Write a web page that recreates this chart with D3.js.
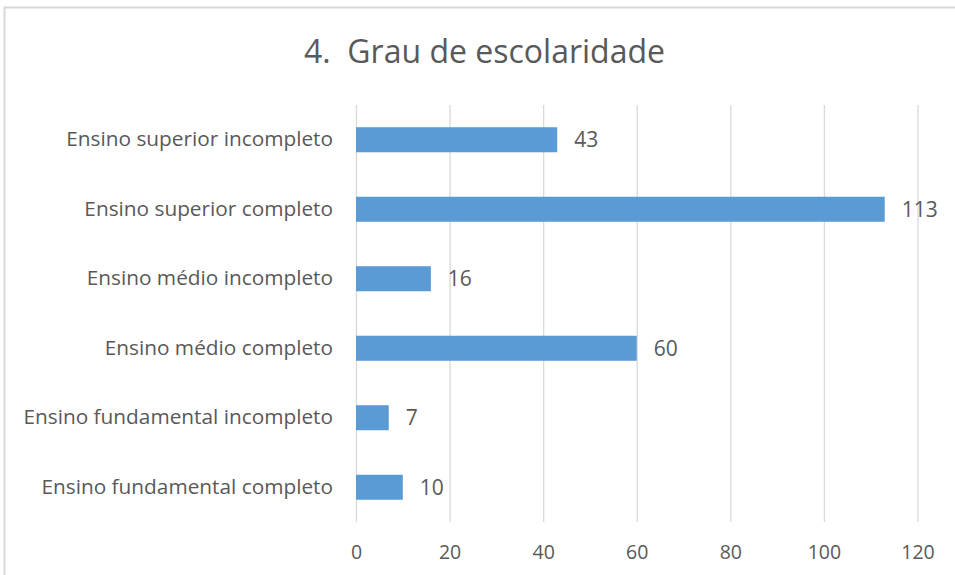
<!DOCTYPE html>
<html>
<head>
<meta charset="utf-8">
<script src="https://cdn.jsdelivr.net/npm/d3@7"></script>
<style>
  body { margin: 0; background: #fff; }
  svg { display: block; font-family: "Open Sans", sans-serif; }
</style>
</head>
<body>
<script>
// chart data
const categories = [
  "Ensino superior incompleto",
  "Ensino superior completo",
  "Ensino médio incompleto",
  "Ensino médio completo",
  "Ensino fundamental incompleto",
  "Ensino fundamental completo"
];
const values = [43, 113, 16, 60, 7, 10];
const xTicks = [0, 20, 40, 60, 80, 100, 120];
const title = "4.  Grau de escolaridade";

const W = 955, H = 575;
const plotLeft = 356, plotRight = 917.5, plotTop = 105, plotBottom = 522;
const textColor = "#595959", gridColor = "#d9d9d9", barColor = "#5b9bd5";

const svg = d3.select("body").append("svg")
    .attr("width", W)
    .attr("height", H);

// chart frame
svg.append("rect")
    .attr("x", 4.5).attr("y", 7.5)
    .attr("width", W + 10).attr("height", H + 10)
    .attr("fill", "#fff")
    .attr("stroke", gridColor)
    .attr("stroke-width", 2);

svg.append("text")
    .attr("x", 484.5)
    .attr("y", 51)
    .attr("dy", "0.36em")
    .attr("text-anchor", "middle")
    .attr("font-size", "32px")
    .attr("fill", textColor)
    .style("white-space", "pre")
    .text(title);

const x = d3.scaleLinear().domain([0, 120]).range([plotLeft, plotRight]);
const y = d3.scaleBand().domain(categories).range([plotTop, plotBottom])
    .paddingInner(0.64).paddingOuter(0.32);

// gridlines
const grid = svg.append("g")
    .attr("transform", "translate(0," + plotBottom + ")")
    .call(d3.axisBottom(x).tickValues(xTicks).tickSize(-(plotBottom - plotTop)).tickFormat(""));
grid.select(".domain").remove();
grid.selectAll(".tick line").attr("stroke", gridColor).attr("stroke-width", 1.3);

// x tick labels
const xAxis = svg.append("g")
    .attr("transform", "translate(0," + plotBottom + ")")
    .call(d3.axisBottom(x).tickValues(xTicks).tickSize(0).tickPadding(23));
xAxis.select(".domain").remove();
xAxis.selectAll("text")
    .attr("font-family", "Open Sans")
    .attr("font-size", "19.5px")
    .attr("fill", textColor);

// category labels
const yAxis = svg.append("g")
    .attr("transform", "translate(" + plotLeft + ",0)")
    .call(d3.axisLeft(y).tickSize(0).tickPadding(23));
yAxis.select(".domain").remove();
yAxis.selectAll("text")
    .attr("font-family", "Open Sans")
    .attr("font-size", "20.8px")
    .attr("fill", textColor);

// bars
svg.selectAll(".bar")
    .data(values)
    .enter().append("rect")
    .attr("class", "bar")
    .attr("x", x(0))
    .attr("y", function(d, i) { return y(categories[i]); })
    .attr("width", function(d) { return x(d) - x(0); })
    .attr("height", y.bandwidth())
    .attr("fill", barColor);

// value labels
svg.selectAll(".val")
    .data(values)
    .enter().append("text")
    .attr("class", "val")
    .attr("x", function(d) { return x(d) + 17; })
    .attr("y", function(d, i) { return y(categories[i]) + y.bandwidth() / 2; })
    .attr("dy", "0.36em")
    .attr("font-size", "21px")
    .attr("fill", textColor)
    .text(function(d) { return d; });
</script>
</body>
</html>
